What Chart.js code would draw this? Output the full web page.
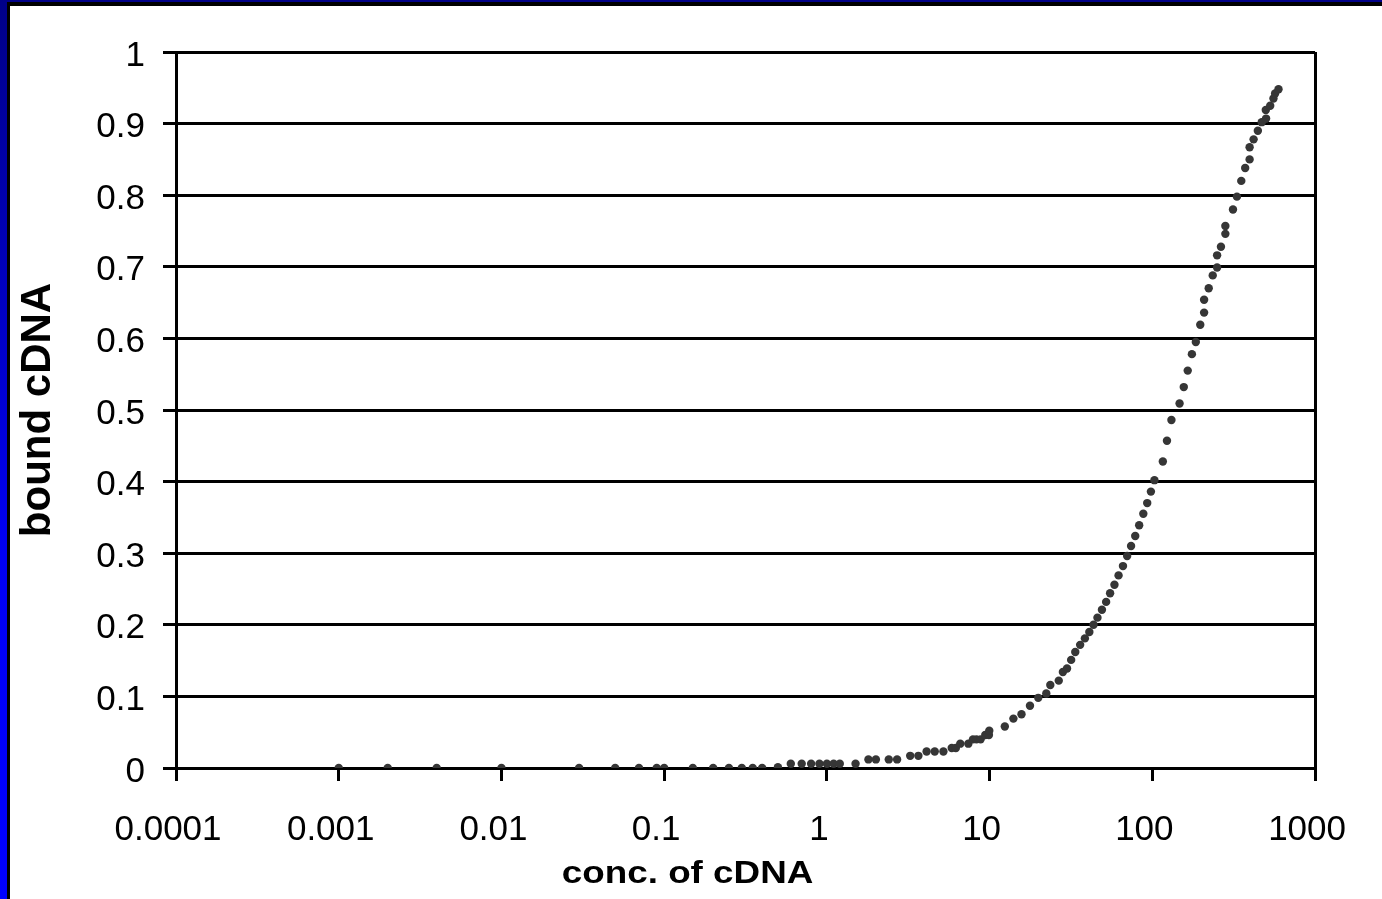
<!DOCTYPE html>
<html>
<head>
<meta charset="utf-8">
<script src="https://cdn.jsdelivr.net/npm/chart.js@4.4.1/dist/chart.umd.min.js"></script>
<style>
html,body{margin:0;padding:0;width:1382px;height:899px;overflow:hidden;}
body{position:relative;background:linear-gradient(to bottom,#000088 0%,#0000c4 35%,#0000f4 62%,#0000ff 100%);}
#frame{position:absolute;left:7px;top:2px;right:0;bottom:0;border-left:3px solid #000;border-top:4px solid #000;background:#fff;}
#c{position:absolute;left:0;top:0;}
</style>
</head>
<body>
<div id="frame"></div>
<canvas id="c" width="1382" height="899"></canvas>
<script>
// concentration of cDNA (x) and bound fraction (y)
const concentration = [
  0.001, 0.002, 0.004, 0.01, 0.03, 0.05, 0.07, 0.09, 0.1, 0.15,
  0.2, 0.25, 0.3, 0.35, 0.4, 0.5, 0.6, 0.7, 0.8, 0.9,
  1.0, 1.1, 1.2, 1.5, 1.8, 2.0, 2.4, 2.7, 3.25, 3.65,
  4.1, 4.6, 5.2, 5.85, 6.2, 6.6, 7.4, 7.9, 8.3, 8.8,
  9.4, 9.9, 9.95, 12.4, 14, 15.7, 17.7, 19.9, 22.3, 23.6,
  26.6, 28.2, 29.9, 31.7, 33.6, 36, 38.5, 41, 43.5, 46,
  49, 52, 55, 58.5, 62, 66, 70, 74, 78.5, 83,
  88, 93, 98, 103, 116, 123, 131, 147, 156, 165,
  175, 185, 197, 208, 208, 222, 235, 250, 250, 264,
  281, 281, 313, 331, 352, 372, 396, 396, 419, 445,
  470, 500, 498, 530, 555, 568, 596
];
const boundFraction = [
  0, 0, 0, 0, 0, 0, 0, 0, 0, 0,
  0, 0, 0, 0, 0, 0.001, 0.006, 0.006, 0.006, 0.006,
  0.006, 0.006, 0.006, 0.006, 0.012, 0.012, 0.012, 0.012, 0.017, 0.017,
  0.023, 0.023, 0.023, 0.028, 0.028, 0.034, 0.034, 0.04, 0.04, 0.04,
  0.046, 0.046, 0.052, 0.058, 0.069, 0.075, 0.087, 0.098, 0.104, 0.116,
  0.122, 0.134, 0.139, 0.151, 0.162, 0.172, 0.181, 0.19, 0.2, 0.21,
  0.221, 0.232, 0.244, 0.256, 0.269, 0.282, 0.296, 0.31, 0.324, 0.339,
  0.355, 0.37, 0.386, 0.402, 0.428, 0.457, 0.486, 0.509, 0.532, 0.555,
  0.578, 0.595, 0.619, 0.636, 0.654, 0.67, 0.688, 0.699, 0.716, 0.728,
  0.746, 0.757, 0.78, 0.798, 0.82, 0.838, 0.85, 0.867, 0.878, 0.89,
  0.902, 0.907, 0.919, 0.925, 0.935, 0.942, 0.948
];
const xTickValues = [0.0001, 0.001, 0.01, 0.1, 1, 10, 100, 1000];
const xTickLabels = ['0.0001', '0.001', '0.01', '0.1', '1', '10', '100', '1000'];
const yTickLabels = ['0', '0.1', '0.2', '0.3', '0.4', '0.5', '0.6', '0.7', '0.8', '0.9', '1'];
const xTitle = 'conc. of cDNA';
const yTitle = 'bound cDNA';

const FONT = '"Liberation Sans", Arial, Helvetica, sans-serif';
Chart.defaults.font.family = FONT;
Chart.defaults.color = '#000';

const xTitlePlugin = {
  id: 'xTitlePlugin',
  afterDraw(chart) {
    const xs = chart.scales.x;
    const ctx = chart.ctx;
    ctx.save();
    ctx.font = 'bold 32px ' + FONT;
    ctx.fillStyle = '#000';
    ctx.textAlign = 'center';
    ctx.textBaseline = 'alphabetic';
    ctx.translate((xs.left + xs.right) / 2 - 58, xs.bottom - 16);
    ctx.scale(1.15, 1);
    ctx.fillText(xTitle, 0, 0);
    ctx.restore();
  }
};

new Chart(document.getElementById('c'), {
  type: 'scatter',
  data: {
    datasets: [{
      data: concentration.map((x, i) => ({ x: x, y: boundFraction[i] })),
      pointRadius: 4.2,
      pointHoverRadius: 4.2,
      pointBackgroundColor: '#363636',
      pointBorderWidth: 0,
      showLine: false
    }]
  },
  options: {
    responsive: false,
    animation: false,
    devicePixelRatio: 1,
    layout: { padding: { top: 52, right: 64, left: 0, bottom: 0 } },
    plugins: { legend: { display: false }, tooltip: { enabled: false } },
    scales: {
      x: {
        type: 'logarithmic',
        min: 0.0001,
        max: 1000,
        afterBuildTicks(scale) { scale.ticks = xTickValues.map(v => ({ value: v })); },
        afterFit(scale) { scale.height = 131; },
        ticks: {
          autoSkip: false,
          maxRotation: 0,
          minRotation: 0,
          padding: 28,
          labelOffset: -8,
          font: { size: 35 },
          color: '#000',
          callback: (v, i) => xTickLabels[i]
        },
        grid: {
          drawOnChartArea: true,
          color: (c) => (c.tick && c.tick.value === 1000) ? '#000' : 'rgba(0,0,0,0)',
          tickColor: '#000',
          lineWidth: 3,
          tickWidth: 3,
          tickLength: 13
        },
        border: { display: true, color: '#000', width: 3 },
        title: { display: false }
      },
      y: {
        type: 'linear',
        min: 0,
        max: 1,
        afterFit(scale) { scale.width = 176; },
        ticks: {
          stepSize: 0.1,
          padding: 18,
          labelOffset: 4,
          font: { size: 35 },
          color: '#000',
          callback: (v, i) => yTickLabels[i]
        },
        grid: {
          color: '#000',
          lineWidth: 3,
          tickLength: 13
        },
        border: { display: true, color: '#000', width: 3 },
        title: {
          display: true,
          text: yTitle,
          color: '#000',
          font: { size: 42, weight: 'bold' },
          padding: { top: 13, bottom: 0 }
        }
      }
    }
  },
  plugins: [xTitlePlugin]
});
</script>
</body>
</html>
